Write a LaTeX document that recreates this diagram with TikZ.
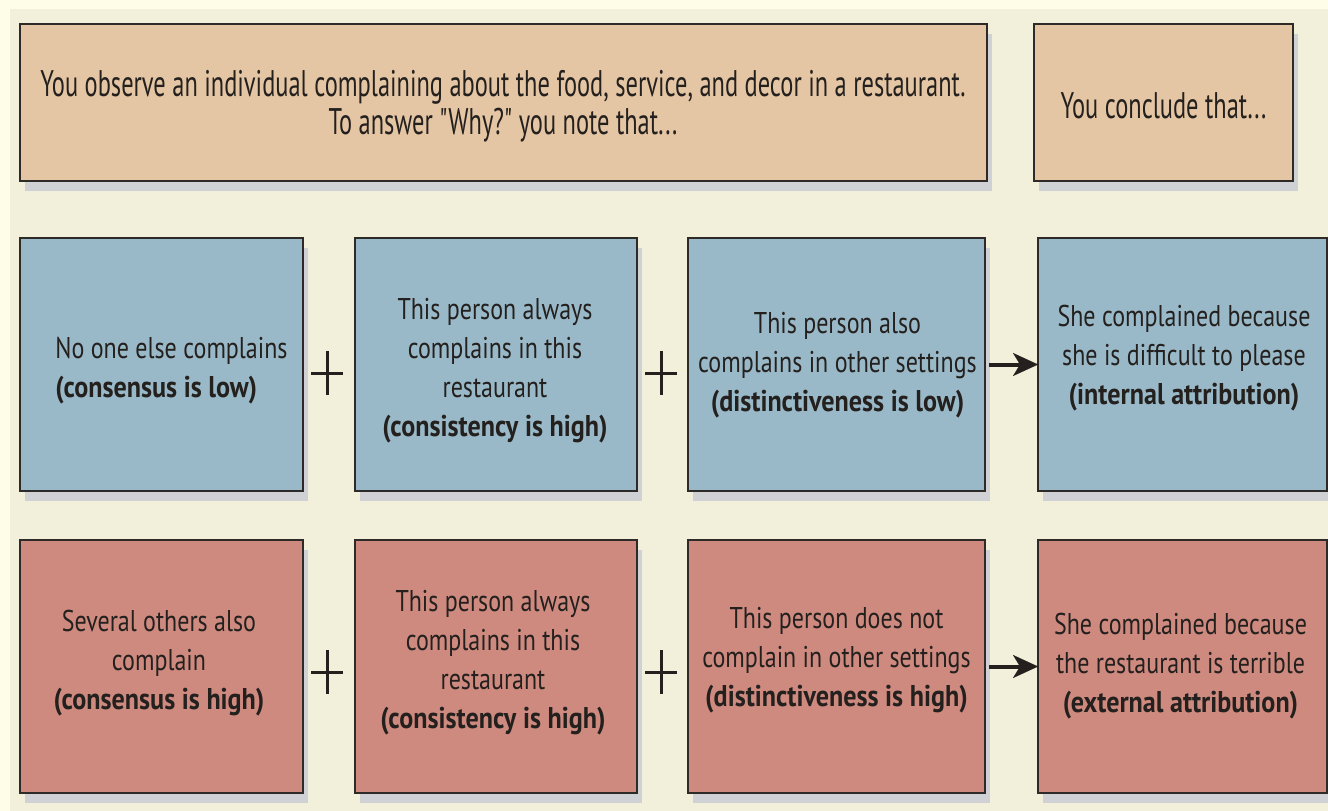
\documentclass[tikz,border=0pt]{standalone}
\usepackage{fontspec}
\setmainfont{PT Sans}
\newfontfamily\topfont[FakeStretch=0.66]{PT Sans}
\newfontfamily\rowfont[FakeStretch=0.80, BoldFeatures={FakeStretch=0.87}]{PT Sans}
\usetikzlibrary{shadows,arrows.meta}
\definecolor{outerbg}{RGB}{254,254,232}
\definecolor{panel}{RGB}{242,240,218}
\definecolor{peach}{RGB}{229,198,164}
\definecolor{bluebox}{RGB}{154,185,200}
\definecolor{redbox}{RGB}{207,138,128}
\definecolor{shadowc}{RGB}{208,209,212}
\definecolor{edge}{RGB}{45,42,40}
\definecolor{ink}{RGB}{35,32,30}
\tikzset{
  box/.style={draw=edge, line width=2pt, inner sep=0pt, outer sep=0pt,
    drop shadow={shadow xshift=5pt, shadow yshift=-10pt, fill=shadowc, opacity=1}},
  toptext/.style={align=center, text=ink, inner sep=0pt, font=\topfont\fontsize{37}{38}\selectfont},
  rowtext/.style={align=center, text=ink, inner sep=0pt, font=\rowfont\fontsize{30}{39}\selectfont},
  plusline/.style={draw=ink, line width=3pt},
  arr/.style={draw=ink, line width=4pt, shorten <=4pt, -{Stealth[length=25pt,width=23pt,inset=7pt,line width=0.1pt]}}
}
\begin{document}
\begin{tikzpicture}[x=1pt,y=-1pt]
\fill[outerbg] (0,0) rectangle (1328,811);
\fill[panel] (10,9) rectangle (1328,811);
\useasboundingbox (0,0) rectangle (1328,811);

% header boxes
\node[box, fill=peach, minimum width=967pt, minimum height=157pt] (obs) at (503.5,102.5) {};
\node[box, fill=peach, minimum width=259pt, minimum height=157pt] (concl) at (1163.5,102.5) {};
\node[toptext] (tobs) at (503,106) {You observe an individual complaining about the  food, service, and decor in a restaurant.\\To answer "Why?" you note that...};
\node[toptext] (tconcl) at (1163.5,106) {You conclude that...};

% row 1
\node[box, fill=bluebox, minimum width=283pt, minimum height=253pt] (b11) at (161.5,364.5) {};
\node[box, fill=bluebox, minimum width=282pt, minimum height=253pt] (b12) at (496,364.5) {};
\node[box, fill=bluebox, minimum width=297pt, minimum height=253pt] (b13) at (836.5,364.5) {};
\node[box, fill=bluebox, minimum width=289pt, minimum height=253pt] (b14) at (1182.5,364.5) {};

\node[rowtext, align=left] (t11) at (171.5,371) {No one else  complains\\\textbf{(consensus is low)}};
\node[rowtext] (t12) at (495,371) {This person always\\complains in this\\restaurant\\\textbf{(consistency is high)}};
\node[rowtext] (t13) at (837.5,365) {This person also\\complains in other settings\\\textbf{(distinctiveness is low)}};
\node[rowtext] (t14) at (1184,358) {She complained because\\she is difficult to please\\\textbf{(internal attribution)}};

% row 2
\node[box, fill=redbox, minimum width=283pt, minimum height=253pt] (b21) at (161.5,666.5) {};
\node[box, fill=redbox, minimum width=282pt, minimum height=253pt] (b22) at (496,666.5) {};
\node[box, fill=redbox, minimum width=297pt, minimum height=253pt] (b23) at (836.5,666.5) {};
\node[box, fill=redbox, minimum width=289pt, minimum height=253pt] (b24) at (1182.5,666.5) {};

\node[rowtext] (t21) at (159,663) {Several others also\\complain\\\textbf{(consensus is high)}};
\node[rowtext] (t22) at (493,663) {This person always\\complains in this\\restaurant\\\textbf{(consistency is high)}};
\node[rowtext] (t23) at (836.5,660) {This person does not\\complain in other settings\\\textbf{(distinctiveness is  high)}};
\node[rowtext] (t24) at (1180.5,666.5) {She complained because\\the restaurant is terrible\\\textbf{(external attribution)}};

% plus signs
\coordinate (p11) at (327,373);
\coordinate (p12) at (661,373);
\coordinate (p21) at (327,672);
\coordinate (p22) at (661,672);
\foreach \p in {p11,p12,p21,p22}{
  \draw[plusline] (\p) +(-16,0) -- +(16,0);
  \draw[plusline] (\p) +(0,-22) -- +(0,22);
}

% arrows
\draw[arr] (b13.east) -- (b14.west);
\draw[arr] (b23.east) -- (b24.west);
\end{tikzpicture}
\end{document}
